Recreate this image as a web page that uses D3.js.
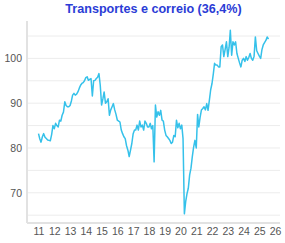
<!DOCTYPE html>
<html>
<head>
<meta charset="utf-8">
<script src="https://cdn.jsdelivr.net/npm/d3@7"></script>
<style>
  body { margin: 0; background: #fff; }
  svg { display: block; font-family: "Liberation Sans", Arial, sans-serif; }
</style>
</head>
<body>
<div id="chart"></div>
<script>
"use strict"

// monthly index, Jan 2011 .. Aug 2025
const startYear = 2011;
const values = [
  // 2011
  83.2, 82.0, 81.3, 82.5, 83.2, 82.4, 82.1, 81.8, 81.7, 81.6, 83.0, 85.0,
  // 2012
  84.3, 85.5, 85.0, 84.7, 86.2, 86.0, 87.3, 88.0, 90.3, 89.5, 89.2, 89.2,
  // 2013
  89.5, 90.5, 91.8, 92.2, 91.8, 92.0, 92.5, 93.3, 94.0, 94.4, 94.6, 95.0,
  // 2014
  95.7, 95.9, 95.1, 95.3, 95.5, 91.6, 95.0, 95.1, 95.5, 95.8, 96.6, 94.0,
  // 2015
  89.6, 91.0, 92.5, 90.0, 90.3, 91.0, 87.3, 88.5, 89.2, 89.9, 88.5, 87.5,
  // 2016
  86.2, 86.0, 85.8, 84.0, 83.2, 82.5, 82.1, 80.5, 79.5, 78.1, 79.5, 81.0,
  // 2017
  83.2, 84.0, 84.0, 85.1, 84.0, 86.0, 84.7, 85.1, 84.0, 86.0, 85.5, 84.7,
  // 2018
  84.7, 85.5, 84.3, 85.0, 76.9, 89.6, 86.9, 88.1, 87.3, 88.4, 86.2, 86.0,
  // 2019
  84.0, 82.8, 82.5, 82.1, 81.7, 81.0, 81.3, 82.8, 82.5, 86.2, 84.5, 85.5,
  // 2020
  84.3, 85.1, 82.1, 65.3, 68.0, 69.8, 71.0, 74.0, 75.5, 78.0, 80.2, 81.7,
  // 2021
  80.0, 87.5, 84.7, 86.9, 88.5, 88.8, 89.2, 88.5, 89.9, 88.4, 90.7, 93.0,
  // 2022
  94.4, 96.6, 98.9, 98.5, 98.5, 98.1, 98.1, 102.6, 103.0, 100.4, 102.0, 103.7,
  // 2023
  100.4, 102.5, 106.3, 100.7, 103.7, 103.0, 103.7, 101.1, 100.0, 99.0, 98.1, 99.6,
  // 2024
  100.0, 99.3, 100.4, 99.6, 100.2, 101.1, 100.0, 99.6, 100.5, 104.8, 101.7, 101.1,
  // 2025
  100.5, 100.0, 101.9, 103.0, 103.5, 104.0, 104.8, 104.3
];

const tickYears = d3.range(2011, 2027);
const gridValues = [65, 70, 75, 80, 85, 90, 95, 100, 105];
const labelValues = [70, 80, 90, 100];
const title = "Transportes e correio (36,4%)";

let totalW = 285, totalH = 243;
let margin = {top: 21, right: 5, bottom: 20, left: 27};
let width = totalW - margin.left - margin.right,
    height = totalH - margin.top - margin.bottom;

let data = values.map(function(v, i) {
  return {date: new Date(startYear, i, 1), value: v};
});

let svg = d3.select("#chart")
  .append("svg")
  .attr("width", totalW)
  .attr("height", totalH);

// 5% padding on both scales
let xExt = d3.extent(data, d => d.date);
let xPad = (xExt[1] - xExt[0]) * 0.05;
let x = d3.scaleTime()
  .domain([new Date(+xExt[0] - xPad), new Date(+xExt[1] + xPad)])
  .range([0, width]);

let yExt = d3.extent(data, d => d.value);
let yPad = (yExt[1] - yExt[0]) * 0.05;
let y = d3.scaleLinear()
  .domain([yExt[0] - yPad, yExt[1] + yPad])
  .range([height, 0]);

let g = svg.append("g")
  .attr("transform", "translate(" + margin.left + "," + margin.top + ")");

// grid
g.append("g")
  .selectAll("line")
  .data(gridValues)
  .enter().append("line")
  .attr("x1", 0)
  .attr("x2", width)
  .attr("y1", d => y(d))
  .attr("y2", d => y(d))
  .style("stroke", "#ececec")
  .style("stroke-width", 1);

// y axis labels
let yAxis = g.append("g")
  .call(d3.axisLeft(y).tickValues(labelValues).tickSize(0).tickPadding(5));
yAxis.select(".domain").remove();
yAxis.selectAll("text")
  .style("font-size", "10.5px")
  .style("font-family", "'Liberation Sans', Arial, sans-serif")
  .style("fill", "#555");

// x axis labels
let xAxis = g.append("g")
  .attr("transform", "translate(0," + height + ")")
  .call(d3.axisBottom(x)
    .tickValues(tickYears.map(yr => new Date(yr, 0, 1)))
    .tickFormat(d => String(d.getFullYear() % 100))
    .tickSize(0)
    .tickPadding(5));
xAxis.select(".domain").remove();
xAxis.selectAll("text")
  .style("font-size", "10.5px")
  .style("font-family", "'Liberation Sans', Arial, sans-serif")
  .style("fill", "#555");

// axis lines
g.append("line")
  .attr("x1", 0).attr("x2", 0)
  .attr("y1", 0).attr("y2", height)
  .style("stroke", "#e2e2e2")
  .style("stroke-width", 2);
g.append("line")
  .attr("x1", 0).attr("x2", width)
  .attr("y1", height).attr("y2", height)
  .style("stroke", "#e2e2e2")
  .style("stroke-width", 2);

// series
let line = d3.line()
  .x(d => x(d.date))
  .y(d => y(d.value));

g.append("path")
  .datum(data)
  .attr("d", line)
  .style("fill", "none")
  .style("stroke", "#35c1ea")
  .style("stroke-width", 1.5)
  .style("stroke-linejoin", "round");

// title
svg.append("text")
  .attr("x", margin.left + width / 2)
  .attr("y", 13)
  .attr("text-anchor", "middle")
  .style("font-size", "12.6px")
  .style("font-weight", "bold")
  .style("fill", "#2b3cd6")
  .text(title);
</script>
</body>
</html>
